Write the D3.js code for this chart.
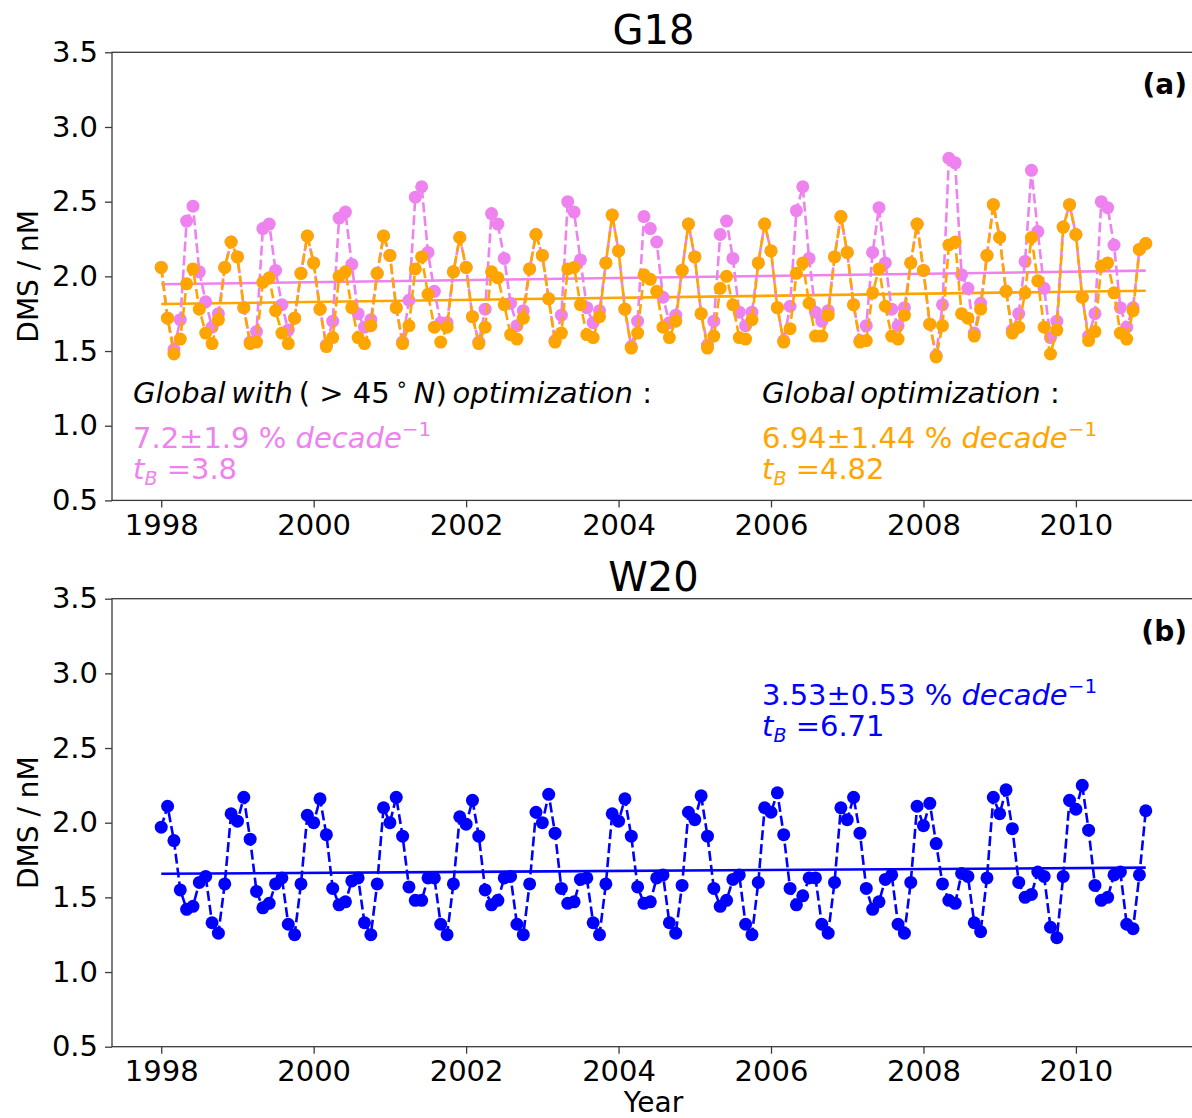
<!DOCTYPE html>
<html lang="en">
<head>
    <title>DMS monthly means: G18 and W20</title>
    <script src="https://d3js.org/d3.v7.min.js"></script>
    <style>
        body { margin: 0; background: #fff; }
        text { font-family: "DejaVu Sans", sans-serif; }
    </style>
</head>
<body>

<svg id="chart"></svg>

<script>

    // monthly values, Jan 1998 .. Dec 2010
    const startYear = 1998;

    const g18Global = [
        2.06, 1.72, 1.48, 1.58, 1.95, 2.05, 1.78, 1.62, 1.55, 1.71, 2.06, 2.23,
        2.13, 1.79, 1.55, 1.56, 1.96, 1.99, 1.77, 1.62, 1.55, 1.72, 2.02, 2.27,
        2.09, 1.78, 1.53, 1.59, 2.00, 2.03, 1.79, 1.59, 1.55, 1.67, 2.02, 2.27,
        2.14, 1.79, 1.55, 1.67, 2.05, 2.13, 1.88, 1.66, 1.56, 1.66, 2.03, 2.26,
        2.06, 1.73, 1.55, 1.66, 2.03, 1.99, 1.81, 1.61, 1.58, 1.72, 2.05, 2.28,
        2.14, 1.85, 1.56, 1.62, 2.05, 2.06, 1.81, 1.61, 1.59, 1.73, 2.09, 2.41,
        2.17, 1.78, 1.52, 1.62, 2.01, 1.98, 1.90, 1.66, 1.59, 1.70, 2.04, 2.35,
        2.13, 1.75, 1.52, 1.60, 1.92, 2.00, 1.81, 1.59, 1.58, 1.71, 2.09, 2.35,
        2.17, 1.79, 1.56, 1.65, 2.02, 2.09, 1.82, 1.60, 1.60, 1.74, 2.13, 2.40,
        2.16, 1.81, 1.56, 1.57, 1.89, 2.05, 1.80, 1.60, 1.58, 1.74, 2.09, 2.35,
        2.04, 1.68, 1.46, 1.67, 2.21, 2.23, 1.75, 1.72, 1.60, 1.78, 2.14, 2.48,
        2.26, 1.90, 1.62, 1.66, 1.89, 2.26, 1.97, 1.66, 1.48, 1.64, 2.33, 2.48,
        2.28, 1.86, 1.57, 1.63, 2.07, 2.09, 1.89, 1.62, 1.58, 1.77, 2.18, 2.22
    ];

    const g18North = [
        2.06, 1.72, 1.51, 1.71, 2.37, 2.47, 2.03, 1.83, 1.66, 1.75, 2.06, 2.23,
        2.13, 1.79, 1.56, 1.63, 2.32, 2.35, 2.04, 1.81, 1.64, 1.72, 2.02, 2.27,
        2.09, 1.78, 1.54, 1.70, 2.39, 2.43, 2.08, 1.75, 1.66, 1.71, 2.02, 2.27,
        2.14, 1.79, 1.56, 1.84, 2.53, 2.60, 2.16, 1.90, 1.69, 1.69, 2.03, 2.26,
        2.06, 1.73, 1.56, 1.78, 2.42, 2.35, 2.12, 1.82, 1.67, 1.77, 2.05, 2.28,
        2.14, 1.85, 1.57, 1.74, 2.50, 2.43, 2.11, 1.79, 1.69, 1.77, 2.09, 2.41,
        2.17, 1.78, 1.53, 1.70, 2.40, 2.32, 2.23, 1.86, 1.69, 1.74, 2.04, 2.35,
        2.13, 1.75, 1.54, 1.70, 2.28, 2.37, 2.12, 1.76, 1.67, 1.76, 2.09, 2.35,
        2.17, 1.79, 1.57, 1.80, 2.44, 2.60, 2.12, 1.76, 1.70, 1.77, 2.13, 2.40,
        2.16, 1.81, 1.57, 1.67, 2.16, 2.46, 2.09, 1.78, 1.67, 1.79, 2.09, 2.35,
        2.04, 1.68, 1.47, 1.81, 2.79, 2.76, 2.01, 1.92, 1.62, 1.82, 2.14, 2.48,
        2.26, 1.90, 1.64, 1.75, 2.10, 2.71, 2.30, 1.92, 1.59, 1.70, 2.33, 2.48,
        2.28, 1.86, 1.60, 1.75, 2.50, 2.46, 2.21, 1.79, 1.66, 1.79, 2.18, 2.22
    ];

    const w20 = [
        1.97, 2.11, 1.88, 1.55, 1.42, 1.44, 1.60, 1.64, 1.33, 1.26, 1.59, 2.06,
        2.01, 2.17, 1.89, 1.54, 1.43, 1.46, 1.59, 1.63, 1.32, 1.25, 1.59, 2.05,
        2.00, 2.16, 1.92, 1.56, 1.45, 1.47, 1.61, 1.63, 1.33, 1.25, 1.59, 2.10,
        2.00, 2.17, 1.91, 1.57, 1.48, 1.48, 1.63, 1.63, 1.32, 1.25, 1.59, 2.04,
        1.99, 2.15, 1.91, 1.55, 1.45, 1.48, 1.63, 1.64, 1.32, 1.25, 1.59, 2.07,
        2.00, 2.19, 1.93, 1.56, 1.46, 1.47, 1.62, 1.63, 1.33, 1.25, 1.59, 2.06,
        2.01, 2.16, 1.91, 1.57, 1.46, 1.47, 1.63, 1.65, 1.33, 1.26, 1.58, 2.07,
        2.02, 2.18, 1.91, 1.56, 1.44, 1.48, 1.62, 1.65, 1.32, 1.25, 1.60, 2.10,
        2.07, 2.20, 1.92, 1.56, 1.45, 1.51, 1.63, 1.63, 1.32, 1.26, 1.60, 2.10,
        2.02, 2.17, 1.93, 1.56, 1.42, 1.47, 1.62, 1.65, 1.32, 1.26, 1.60, 2.11,
        1.98, 2.13, 1.86, 1.59, 1.48, 1.46, 1.66, 1.64, 1.33, 1.27, 1.63, 2.17,
        2.06, 2.22, 1.96, 1.60, 1.50, 1.52, 1.67, 1.64, 1.30, 1.23, 1.64, 2.15,
        2.09, 2.25, 1.95, 1.58, 1.48, 1.50, 1.65, 1.67, 1.32, 1.29, 1.65, 2.08
    ];

    // fitted trend, value at first and last month
    const trendG18Global = [1.815, 1.904];
    const trendG18North = [1.947, 2.038];
    const trendW20 = [1.658, 1.699];

    const xTicks = [1998, 2000, 2002, 2004, 2006, 2008, 2010];
    const yTicks = [0.5, 1.0, 1.5, 2.0, 2.5, 3.0, 3.5];

    const panels = [
        {
            title: "G18", tag: "(a)", top: 52.3, bottom: 500.4,
            series: [
                {values: g18North, trend: trendG18North, color: "violet"},
                {values: g18Global, trend: trendG18Global, color: "orange"}
            ]
        },
        {
            title: "W20", tag: "(b)", top: 598.7, bottom: 1046.7,
            series: [
                {values: w20, trend: trendW20, color: "blue"}
            ]
        }
    ];

    let width = 1192,
        height = 1118,
        left = 112,
        right = 1195;

    let svg = d3.select("#chart")
        .attr("width", width)
        .attr("height", height);

    let years = w20.map((d, i) => startYear + i / 12);
    let xExt = d3.extent(years),
        pad = (xExt[1] - xExt[0]) * 0.05;

    let x = d3.scaleLinear()
        .domain([xExt[0] - pad, xExt[1] + pad])
        .range([left, right]);

    panels.forEach(p => {
        let y = d3.scaleLinear().domain([0.5, 3.5]).range([p.bottom, p.top]);
        let g = svg.append("g");

        // trend lines under the data
        p.series.forEach(s => {
            g.append("line")
                .attr("x1", x(years[0])).attr("x2", x(years[years.length - 1]))
                .attr("y1", y(s.trend[0])).attr("y2", y(s.trend[1]))
                .attr("stroke", s.color)
                .attr("stroke-width", 2.6);
        });

        let line = d3.line()
            .x((d, i) => x(years[i]))
            .y(d => y(d));

        p.series.forEach(s => {
            g.append("path")
                .datum(s.values)
                .attr("d", line)
                .attr("fill", "none")
                .attr("stroke", s.color)
                .attr("stroke-width", 2.6)
                .attr("stroke-dasharray", "10,4");

            g.selectAll(null)
                .data(s.values)
                .enter().append("circle")
                .attr("cx", (d, i) => x(years[i]))
                .attr("cy", d => y(d))
                .attr("r", 6.5)
                .attr("fill", s.color);
        });

        // frame
        g.append("rect")
            .attr("x", left).attr("y", p.top)
            .attr("width", right - left).attr("height", p.bottom - p.top)
            .attr("fill", "none")
            .attr("stroke", "#3a3a3a")
            .attr("stroke-width", 1.3);

        let xAxis = g.append("g")
            .attr("transform", `translate(0,${p.bottom})`)
            .call(d3.axisBottom(x).tickValues(xTicks).tickFormat(d3.format("d"))
                .tickSize(7).tickPadding(7));

        let yAxis = g.append("g")
            .attr("transform", `translate(${left},0)`)
            .call(d3.axisLeft(y).tickValues(yTicks).tickFormat(d3.format(".1f"))
                .tickSize(7).tickPadding(7));

        [xAxis, yAxis].forEach(a => {
            a.select(".domain").remove();
            a.selectAll("line").attr("stroke", "#3a3a3a").attr("stroke-width", 1.3);
            a.selectAll("text")
                .attr("fill", "#000")
                .style("font-family", "DejaVu Sans")
                .style("font-size", "29px");
        });

        g.append("text")
            .attr("x", (left + right) / 2)
            .attr("y", p.top - 8)
            .attr("text-anchor", "middle")
            .style("font-size", "40px")
            .text(p.title);

        g.append("text")
            .attr("x", 1187)
            .attr("y", p.top + 42)
            .attr("text-anchor", "end")
            .style("font-size", "28px")
            .style("font-weight", "bold")
            .text(p.tag);

        g.append("text")
            .attr("transform", `translate(38,${(p.top + p.bottom) / 2}) rotate(-90)`)
            .attr("text-anchor", "middle")
            .style("font-size", "28px")
            .text("DMS / nM");
    });

    svg.append("text")
        .attr("x", (left + right) / 2)
        .attr("y", 1112)
        .attr("text-anchor", "middle")
        .style("font-size", "28px")
        .text("Year");

    // annotations: trend, its uncertainty and the t_B statistic
    function label(xPos, yPos, parts, color) {
        let t = svg.append("text")
            .attr("x", xPos).attr("y", yPos)
            .attr("fill", color)
            .style("font-size", "29px");
        parts.forEach(pt => {
            let s = t.append("tspan").text(pt.t);
            if (pt.it) s.style("font-style", "italic");
            if (pt.sup) s.attr("dy", -12).style("font-size", "20px");
            if (pt.sub) s.attr("dy", 6).style("font-size", "19px");
            if (pt.back) s.attr("dy", pt.back);
        });
    }

    function trendText(xPos, yPos, rate, tb, color) {
        label(xPos, yPos, [
            {t: rate + " % "}, {t: "decade", it: true}, {t: "\u22121", sup: true}
        ], color);
        label(xPos, yPos + 31, [
            {t: "t", it: true}, {t: "B", it: true, sub: true}, {t: " =" + tb, back: -6}
        ], color);
    }

    label(133, 403, [
        {t: "Global", it: true}, {t: "\u2009"}, {t: "with", it: true}, {t: "\u2009( > 45\u2009"},
        {t: "\u2218", sup: true}, {t: "\u2009", back: 12}, {t: "N", it: true}, {t: ")\u2009"},
        {t: "optimization", it: true}, {t: " :"}
    ], "#000");
    label(762, 403, [
        {t: "Global", it: true}, {t: "\u2009"}, {t: "optimization", it: true}, {t: " :"}
    ], "#000");

    trendText(133, 448, "7.2\u00b11.9", "3.8", "violet");
    trendText(762, 448, "6.94\u00b11.44", "4.82", "orange");
    trendText(762, 705, "3.53\u00b10.53", "6.71", "blue");

</script>

</body>
</html>
